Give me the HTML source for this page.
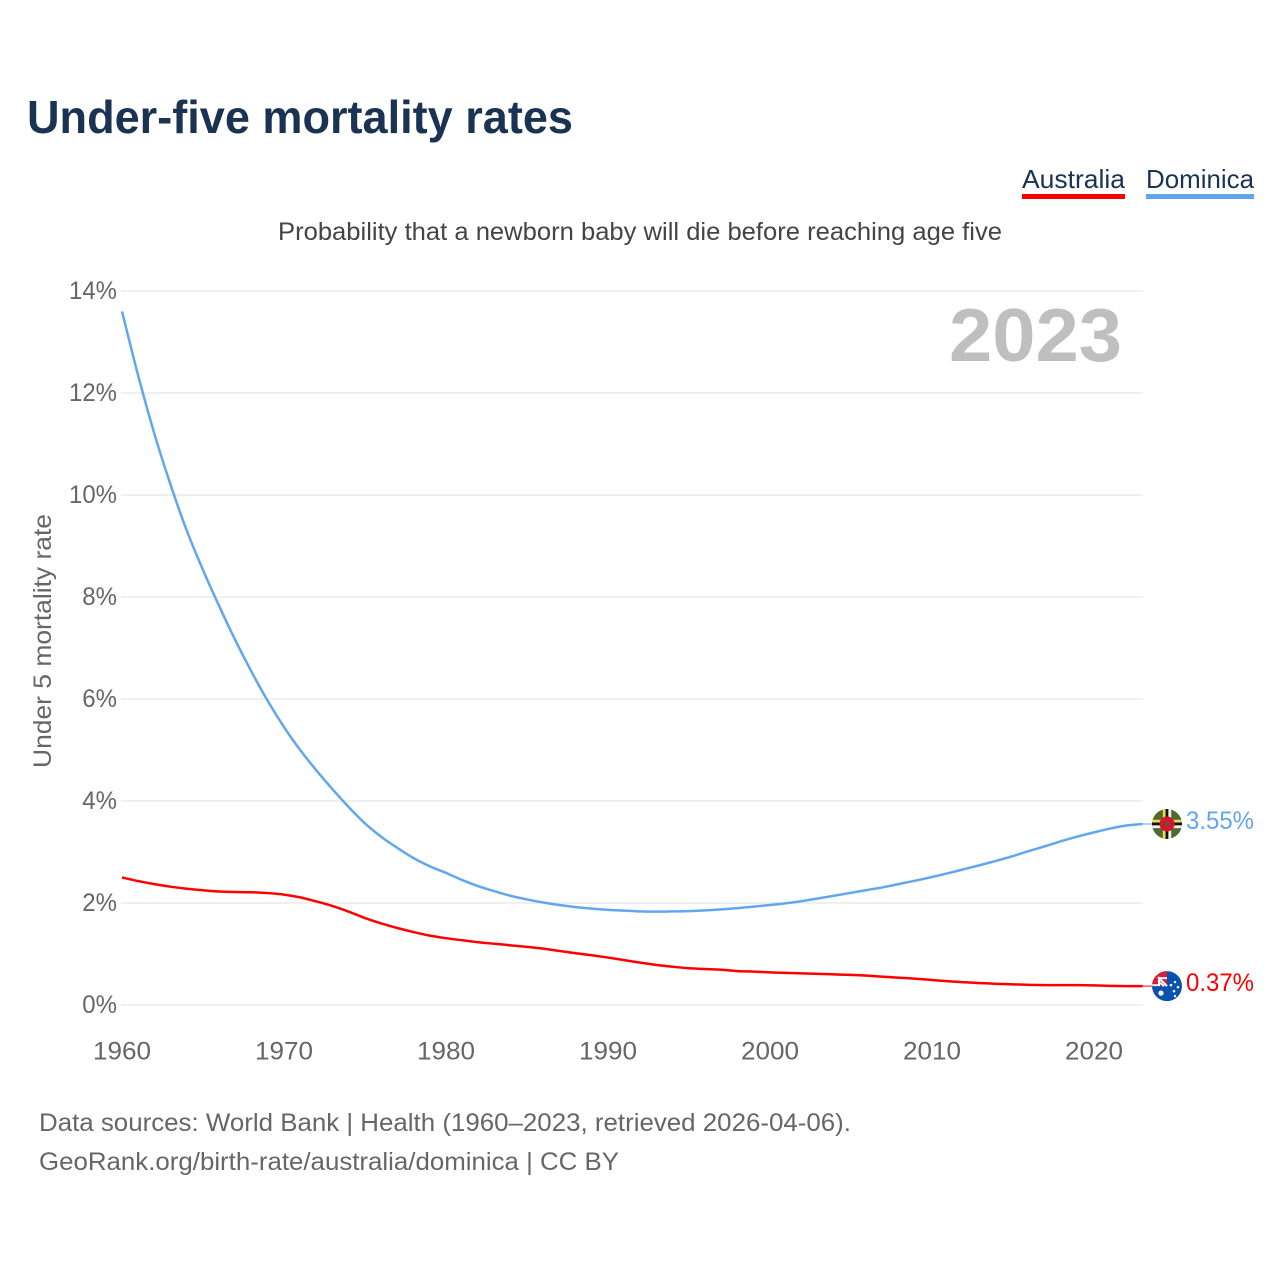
<!DOCTYPE html>
<html lang="en">
<head>
<meta charset="utf-8">
<title>Under-five mortality rates</title>
<style>
  html, body { margin: 0; padding: 0; background: #fff; }
  body { width: 1280px; height: 1280px; overflow: hidden; }
  svg { display: block; font-family: "Liberation Sans", sans-serif; }
  .tick { font-size: 25px; fill: #666; }
</style>
</head>
<body>
<svg id="chart" width="1280" height="1280" viewBox="0 0 1280 1280" xmlns="http://www.w3.org/2000/svg">
  <rect width="1280" height="1280" fill="#fff"/>
  <text x="27" y="133" font-size="46" font-weight="700" fill="#1a3353" textLength="546" lengthAdjust="spacingAndGlyphs">Under-five mortality rates</text>

  <g>
    <text x="1022" y="188" font-size="26" fill="#1a3353" textLength="103" lengthAdjust="spacingAndGlyphs">Australia</text>
    <rect x="1022" y="194" width="103" height="5" fill="#ff0000"/>
  </g>
  <g>
    <text x="1146" y="188" font-size="26" fill="#1a3353" textLength="108" lengthAdjust="spacingAndGlyphs">Dominica</text>
    <rect x="1146" y="194" width="108" height="5" fill="#62a6ee"/>
  </g>

  <text x="278" y="240" font-size="25" fill="#444" textLength="724" lengthAdjust="spacingAndGlyphs">Probability that a newborn baby will die before reaching age five</text>

  <text transform="translate(51,768) rotate(-90)" font-size="25" fill="#666" textLength="254" lengthAdjust="spacingAndGlyphs">Under 5 mortality rate</text>

  <text x="949" y="361" font-size="75" font-weight="700" fill="#bfbfbf" textLength="173" lengthAdjust="spacingAndGlyphs">2023</text>

  <g id="grid"></g>
  <g id="yticks"></g>
  <g id="xticks"></g>
  <g id="series"></g>

  <defs>
    <clipPath id="flagClip"><circle cx="0" cy="0" r="15"/></clipPath>
  </defs>

  <g id="flag-dominica">
    <g clip-path="url(#flagClip)">
      <rect x="-15" y="-15" width="30" height="30" fill="#4d6b2c"/>
      <rect x="-15" y="-4.2" width="30" height="2.8" fill="#f4d44a"/>
      <rect x="-15" y="-1.4" width="30" height="2.8" fill="#111"/>
      <rect x="-15" y="1.4" width="30" height="2.8" fill="#f2f2f2"/>
      <rect x="-4.2" y="-15" width="2.8" height="30" fill="#f4d44a"/>
      <rect x="-1.4" y="-15" width="2.8" height="30" fill="#111"/>
      <rect x="1.4" y="-15" width="2.8" height="30" fill="#f2f2f2"/>
      <circle cx="0" cy="0" r="7.5" fill="#d8142f"/>
      <circle cx="0" cy="0" r="2.2" fill="#3d6a2a"/>
    </g>
  </g>

  <g id="flag-australia">
    <g clip-path="url(#flagClip)">
      <rect x="-15" y="-15" width="30" height="30" fill="#0a52b0"/>
      <rect x="-15" y="-15" width="15" height="15" fill="#d81e34"/>
      <path d="M-9 -9 L0 0 M-9 -5 L-3 0" stroke="#fff" stroke-width="2" fill="none"/>
      <rect x="-9" y="-9" width="9" height="2" fill="#fff"/>
      <rect x="-9" y="-9" width="2" height="9" fill="#fff"/>
      <rect x="-15" y="-2" width="6" height="2" fill="#e9e9e9"/>
      <circle cx="-6" cy="7" r="2.6" fill="#fff"/>
      <circle cx="4" cy="-1" r="1.3" fill="#fff"/>
      <circle cx="8" cy="-4" r="1.2" fill="#fff"/>
      <circle cx="11" cy="1" r="1.3" fill="#fff"/>
      <circle cx="7" cy="5" r="1.3" fill="#fff"/>
      <circle cx="8" cy="10" r="1.2" fill="#fff"/>
    </g>
  </g>

  <g id="endlabels"></g>

  <text x="39" y="1131" font-size="25" fill="#666" textLength="812" lengthAdjust="spacingAndGlyphs">Data sources: World Bank | Health (1960–2023, retrieved 2026-04-06).</text>
  <text x="39" y="1170" font-size="25" fill="#666" textLength="580" lengthAdjust="spacingAndGlyphs">GeoRank.org/birth-rate/australia/dominica | CC BY</text>
</svg>

<script>
const firstYear = 1960;
const yTickValues = [0, 2, 4, 6, 8, 10, 12, 14];
const xTickYears = [1960, 1970, 1980, 1990, 2000, 2010, 2020];
const australiaValues = [
  2.50, 2.43, 2.37, 2.32, 2.28, 2.25, 2.225, 2.215, 2.21, 2.195,
  2.165, 2.11, 2.03, 1.94, 1.83, 1.705, 1.60, 1.51, 1.43, 1.36,
  1.31, 1.27, 1.23, 1.20, 1.17, 1.14, 1.105, 1.06, 1.015, 0.975,
  0.93, 0.88, 0.83, 0.785, 0.75, 0.72, 0.705, 0.69, 0.665, 0.655,
  0.64, 0.63, 0.62, 0.61, 0.60, 0.59, 0.575, 0.555, 0.535, 0.515,
  0.49, 0.465, 0.445, 0.43, 0.415, 0.405, 0.395, 0.39, 0.39, 0.39,
  0.385, 0.375, 0.37, 0.37
];
const dominicaValues = [
  13.60, 12.34, 11.20, 10.20, 9.30, 8.53, 7.82, 7.15, 6.53, 5.96,
  5.45, 5.00, 4.60, 4.23, 3.88, 3.56, 3.30, 3.08, 2.88, 2.72,
  2.59, 2.45, 2.33, 2.23, 2.14, 2.07, 2.01, 1.96, 1.92, 1.89,
  1.865, 1.85, 1.835, 1.83, 1.835, 1.84, 1.855, 1.875, 1.90, 1.93,
  1.96, 1.995, 2.04, 2.09, 2.145, 2.20, 2.255, 2.31, 2.375, 2.44,
  2.51, 2.585, 2.665, 2.745, 2.83, 2.92, 3.02, 3.115, 3.215, 3.305,
  3.385, 3.46, 3.52, 3.55
];

const NS = 'http://www.w3.org/2000/svg';
const xScale = function (year) { return 122 + (year - 1960) * 16.2; };
const yScale = function (value) { return 1005 - value * 51; };

function makeText(parent, content, x, y, anchor, stretch) {
  const t = document.createElementNS(NS, 'text');
  t.textContent = content;
  t.setAttribute('x', x);
  t.setAttribute('y', y);
  t.setAttribute('text-anchor', anchor);
  t.setAttribute('class', 'tick');
  parent.appendChild(t);
  t.setAttribute('textLength', (t.getComputedTextLength() * stretch).toFixed(1));
  t.setAttribute('lengthAdjust', 'spacingAndGlyphs');
  return t;
}

const gridGroup = document.getElementById('grid');
const yTickGroup = document.getElementById('yticks');
yTickValues.forEach(function (v) {
  const line = document.createElementNS(NS, 'line');
  
  
  line.setAttribute('x1', xScale(1960) - 1);
  line.setAttribute('x2', xScale(2023));
  line.setAttribute('y1', yScale(v));
  line.setAttribute('y2', yScale(v));
  line.setAttribute('stroke', '#ececec');
  line.setAttribute('stroke-width', '1.4');
  gridGroup.appendChild(line);
  const label = makeText(yTickGroup, v + '%', 117, yScale(v) + 8, 'end', 0.96);
  
  
});

const xTickGroup = document.getElementById('xticks');
xTickYears.forEach(function (year) {
  const label = makeText(xTickGroup, String(year), xScale(year), 1059.5, 'middle', 1.043);
  
  
});

function linePath(values) {
  const pts = values.map(function (v, i) {
    return [xScale(firstYear + i), yScale(v)];
  });
  let d = 'M' + pts[0][0].toFixed(2) + ',' + pts[0][1].toFixed(2);
  for (let i = 0; i < pts.length - 1; i++) {
    const p0 = pts[Math.max(i - 1, 0)];
    const p1 = pts[i];
    const p2 = pts[i + 1];
    const p3 = pts[Math.min(i + 2, pts.length - 1)];
    const c1x = p1[0] + (p2[0] - p0[0]) / 6;
    const c1y = p1[1] + (p2[1] - p0[1]) / 6;
    const c2x = p2[0] - (p3[0] - p1[0]) / 6;
    const c2y = p2[1] - (p3[1] - p1[1]) / 6;
    d += 'C' + c1x.toFixed(2) + ',' + c1y.toFixed(2) + ' ' + c2x.toFixed(2) + ',' + c2y.toFixed(2) + ' ' + p2[0].toFixed(2) + ',' + p2[1].toFixed(2);
  }
  return d;
}

const seriesGroup = document.getElementById('series');
const flagX = 1167;

const australiaLine = document.createElementNS(NS, 'path');


australiaLine.setAttribute('d', linePath(australiaValues));
australiaLine.setAttribute('fill', 'none');
australiaLine.setAttribute('stroke', '#ff0000');
australiaLine.setAttribute('stroke-width', '2.5');
seriesGroup.appendChild(australiaLine);

const dominicaLine = document.createElementNS(NS, 'path');


dominicaLine.setAttribute('d', linePath(dominicaValues));
dominicaLine.setAttribute('fill', 'none');
dominicaLine.setAttribute('stroke', '#62a6ee');
dominicaLine.setAttribute('stroke-width', '2.5');
seriesGroup.appendChild(dominicaLine);

const lastAustralia = australiaValues[australiaValues.length - 1];
const lastDominica = dominicaValues[dominicaValues.length - 1];
const lastX = xScale(firstYear + dominicaValues.length - 1);

const australiaConnector = document.createElementNS(NS, 'line');


australiaConnector.setAttribute('x1', lastX);
australiaConnector.setAttribute('x2', flagX);
australiaConnector.setAttribute('y1', yScale(lastAustralia));
australiaConnector.setAttribute('y2', yScale(lastAustralia));
australiaConnector.setAttribute('stroke', '#ff0000');
australiaConnector.setAttribute('stroke-width', '1');
seriesGroup.appendChild(australiaConnector);

const dominicaConnector = document.createElementNS(NS, 'line');


dominicaConnector.setAttribute('x1', lastX);
dominicaConnector.setAttribute('x2', flagX);
dominicaConnector.setAttribute('y1', yScale(lastDominica));
dominicaConnector.setAttribute('y2', yScale(lastDominica));
dominicaConnector.setAttribute('stroke', '#62a6ee');
dominicaConnector.setAttribute('stroke-width', '1');
seriesGroup.appendChild(dominicaConnector);

document.getElementById('flag-australia').setAttribute('transform', 'translate(' + flagX + ',' + yScale(lastAustralia) + ')');
document.getElementById('flag-dominica').setAttribute('transform', 'translate(' + flagX + ',' + yScale(lastDominica) + ')');

const endLabelGroup = document.getElementById('endlabels');

const australiaEnd = document.createElementNS(NS, 'text');


australiaEnd.setAttribute('x', 1186);
australiaEnd.setAttribute('y', yScale(lastAustralia) + 5);
australiaEnd.setAttribute('font-size', '25');
australiaEnd.setAttribute('fill', '#ff0000');
australiaEnd.setAttribute('textLength', '68');
australiaEnd.setAttribute('lengthAdjust', 'spacingAndGlyphs');
australiaEnd.textContent = lastAustralia.toFixed(2) + '%';
endLabelGroup.appendChild(australiaEnd);

const dominicaEnd = document.createElementNS(NS, 'text');


dominicaEnd.setAttribute('x', 1186);
dominicaEnd.setAttribute('y', yScale(lastDominica) + 5);
dominicaEnd.setAttribute('font-size', '25');
dominicaEnd.setAttribute('fill', '#62a6ee');
dominicaEnd.setAttribute('textLength', '68');
dominicaEnd.setAttribute('lengthAdjust', 'spacingAndGlyphs');
dominicaEnd.textContent = lastDominica.toFixed(2) + '%';
endLabelGroup.appendChild(dominicaEnd);
</script>
</body>
</html>
